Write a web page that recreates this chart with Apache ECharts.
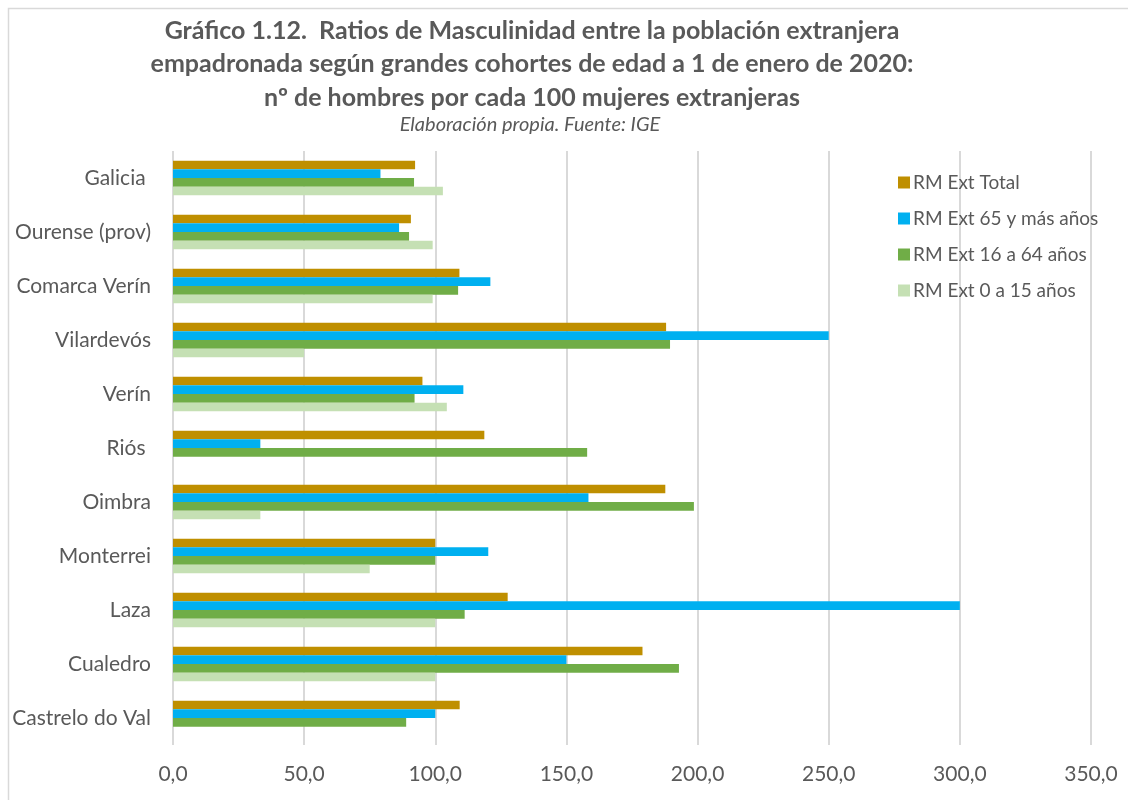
<!DOCTYPE html>
<html lang="es">
<head>
    <meta charset="UTF-8">
    <title>Ratios de Masculinidad</title>
    <style>
        html, body { margin: 0; padding: 0; background: #fff; }
        #main { width: 1128px; height: 800px; }
    </style>
</head>
<body>
<div id="main"></div>
<script src="https://cdn.jsdelivr.net/npm/echarts@6/dist/echarts.min.js"></script>
<script>
    // categorías (de arriba a abajo)
    var categorias = ['Galicia ', 'Ourense (prov)', 'Comarca Verín', 'Vilardevós', 'Verín', 'Riós ',
        'Oimbra', 'Monterrei', 'Laza', 'Cualedro', 'Castrelo do Val'];
    // series
    var rmTotal = [92.3, 90.7, 109.2, 188.0, 95.1, 118.7, 187.7, 100.0, 127.6, 179.0, 109.3];
    var rm65 = [79.1, 86.2, 121.0, 250.0, 110.7, 33.3, 158.4, 120.2, 300.0, 150.0, 100.0];
    var rm16 = [91.9, 90.0, 108.7, 189.5, 92.1, 157.9, 198.6, 100.0, 111.2, 192.9, 88.9];
    var rm0 = [102.9, 99.0, 99.0, 50.0, 104.4, 0, 33.3, 75.0, 100.0, 100.0, 0];
    var nombres = ['RM Ext Total', 'RM Ext 65 y más años', 'RM Ext 16 a 64 años', 'RM Ext 0 a 15 años'];
    var colores = ['#BF8F00', '#00B0F0', '#70AD47', '#C5E0B4'];

    var fuente = 'Lato, "Open Sans", sans-serif';
    var gris = '#595959';

    var myChart = echarts.init(document.getElementById('main'));
    var datos = [rmTotal, rm65, rm16, rm0];
    var series = [];
    for (var i = 0; i < datos.length; i++) {
        series.push({
            name: nombres[i],
            type: 'bar',
            data: datos[i],
            barGap: '0%',
            barCategoryGap: '36%',
            itemStyle: { color: colores[i] },
            silent: true
        });
    }

    var option = {
        animation: false,
        color: colores,
        title: [{
            text: 'Gráfico 1.12.  Ratios de Masculinidad entre la población extranjera\nempadronada según grandes cohortes de edad a 1 de enero de 2020:\nnº de hombres por cada 100 mujeres extranjeras',
            left: 527,
            top: 9,
            textAlign: 'center',
            textStyle: {
                fontFamily: fuente,
                fontWeight: 'bold',
                fontSize: 25,
                color: gris,
                lineHeight: 33.5
            }
        }, {
            text: 'Elaboración propia. Fuente: IGE',
            left: 525,
            top: 110,
            textAlign: 'center',
            textStyle: {
                fontFamily: fuente,
                fontStyle: 'italic',
                fontWeight: 'normal',
                fontSize: 20,
                color: gris
            }
        }],
        legend: {
            orient: 'vertical',
            left: 893,
            top: 168,
            itemWidth: 12,
            itemHeight: 12,
            itemGap: 17,
            icon: 'rect',
            textStyle: { fontFamily: fuente, fontSize: 19, color: gris, padding: [0, 0, 0, -2] },
            data: nombres
        },
        grid: {
            left: 173,
            right: 37,
            top: 151,
            height: 594,
            containLabel: false
        },
        xAxis: {
            type: 'value',
            min: 0,
            max: 350,
            interval: 50,
            axisLine: { show: false },
            axisTick: { show: false },
            splitLine: { lineStyle: { color: '#d9d9d9', width: 2 } },
            axisLabel: {
                margin: 19,
                fontFamily: fuente,
                fontSize: 21,
                color: gris,
                formatter: function (v) { return v.toFixed(1).replace('.', ','); }
            }
        },
        yAxis: {
            type: 'category',
            inverse: true,
            data: categorias,
            axisLine: { show: false },
            axisTick: { show: false },
            axisLabel: {
                margin: 22,
                fontFamily: fuente,
                fontSize: 21,
                color: gris
            }
        },
        graphic: [{
            type: 'rect',
            shape: { x: 8.5, y: 8.5, width: 1140, height: 820 },
            style: { fill: 'none', stroke: '#d9d9d9', lineWidth: 1.5 },
            silent: true
        }],
        series: series
    };

    myChart.setOption(option);
</script>
</body>
</html>
